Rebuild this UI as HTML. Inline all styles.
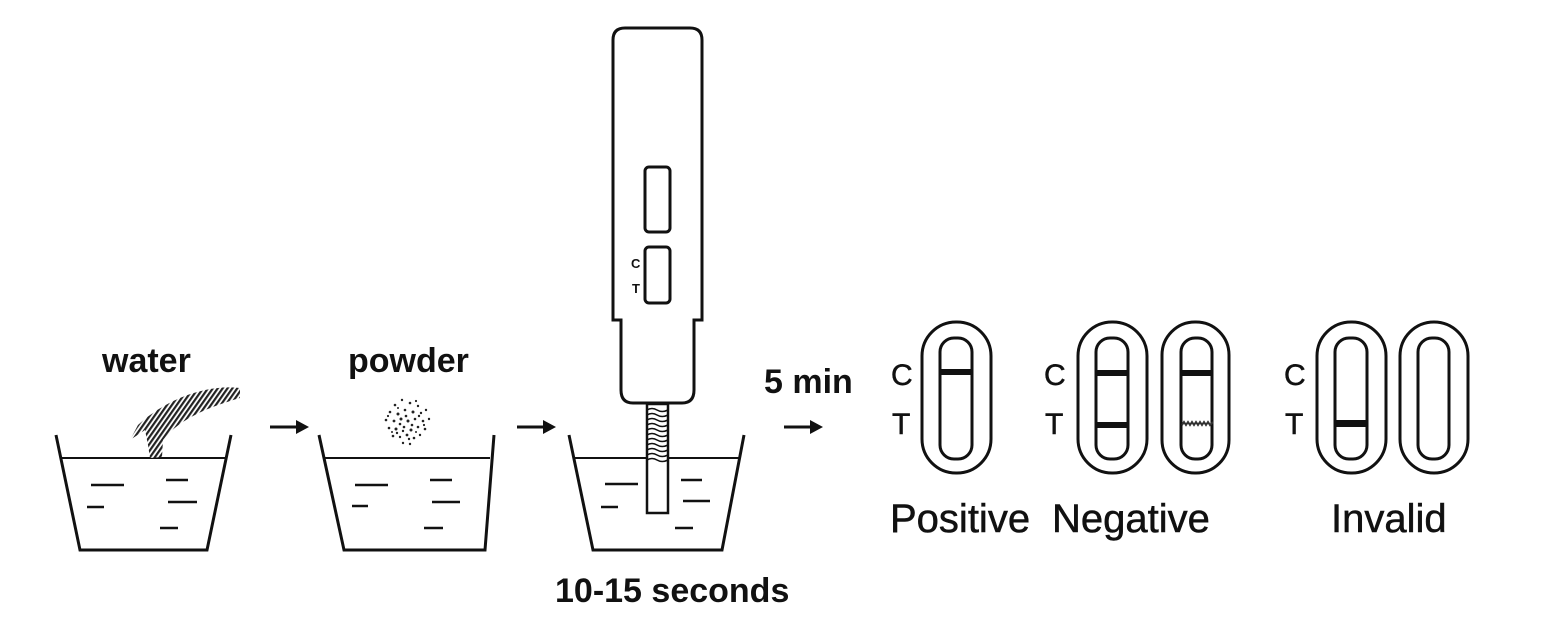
<!DOCTYPE html>
<html><head><meta charset="utf-8"><style>
html,body{margin:0;padding:0;background:#fff;}
svg{display:block;}
text{font-family:"Liberation Sans",Arial,sans-serif;fill:#111;}
</style></head><body>
<svg width="1558" height="626" viewBox="0 0 1558 626" xmlns="http://www.w3.org/2000/svg">
<defs>
<pattern id="hatch" width="4" height="4" patternUnits="userSpaceOnUse" patternTransform="rotate(35)">
<rect width="4" height="4" fill="#fff"/><rect width="2.2" height="4" fill="#222"/>
</pattern>
</defs>
<g fill="none" stroke="#111" stroke-width="3">
<path d="M56 435 L80 550 L207 550 L231 435"/>
<path d="M319 435 L344 550 L485 550 L494 435"/>
<path d="M569 435 L593 550 L722 550 L744 435"/>
</g>
<g stroke="#111" stroke-width="2">
<line x1="61" y1="458" x2="227" y2="458"/>
<line x1="325" y1="458" x2="490" y2="458"/>
<line x1="574" y1="458" x2="740" y2="458"/>
</g>
<g stroke="#111" stroke-width="2.5">
<line x1="91" y1="485" x2="124" y2="485"/><line x1="166" y1="480" x2="188" y2="480"/>
<line x1="87" y1="507" x2="104" y2="507"/><line x1="168" y1="502" x2="197" y2="502"/>
<line x1="160" y1="528" x2="178" y2="528"/>
<line x1="355" y1="485" x2="388" y2="485"/><line x1="430" y1="480" x2="452" y2="480"/>
<line x1="352" y1="506" x2="368" y2="506"/><line x1="432" y1="502" x2="460" y2="502"/>
<line x1="424" y1="528" x2="443" y2="528"/>
<line x1="605" y1="484" x2="638" y2="484"/><line x1="681" y1="480" x2="702" y2="480"/>
<line x1="601" y1="507" x2="618" y2="507"/><line x1="683" y1="501" x2="710" y2="501"/>
<line x1="675" y1="528" x2="693" y2="528"/>
</g>
<!-- water stream -->
<path d="M240 388 C205 384 165 400 138 425 L130 440 L145 430 L148 445 L150 458 L162 457 L163 440 C180 418 212 406 240 398 Z" fill="url(#hatch)"/>
<!-- powder -->
<g fill="#222">
<circle cx="395" cy="405" r="1.3"/><circle cx="402" cy="400" r="1.2"/><circle cx="410" cy="403" r="1.3"/><circle cx="418" cy="406" r="1.2"/>
<circle cx="390" cy="412" r="1.3"/><circle cx="398" cy="414" r="1.5"/><circle cx="405" cy="410" r="1.3"/><circle cx="413" cy="412" r="1.5"/><circle cx="421" cy="413" r="1.2"/><circle cx="426" cy="410" r="1.2"/>
<circle cx="386" cy="420" r="1.3"/><circle cx="394" cy="421" r="1.4"/><circle cx="401" cy="419" r="1.5"/><circle cx="408" cy="421" r="1.5"/><circle cx="415" cy="419" r="1.3"/><circle cx="423" cy="421" r="1.3"/><circle cx="429" cy="419" r="1.2"/>
<circle cx="389" cy="428" r="1.3"/><circle cx="396" cy="429" r="1.5"/><circle cx="404" cy="427" r="1.3"/><circle cx="411" cy="430" r="1.5"/><circle cx="418" cy="427" r="1.3"/><circle cx="425" cy="429" r="1.3"/>
<circle cx="393" cy="436" r="1.3"/><circle cx="400" cy="437" r="1.2"/><circle cx="407" cy="435" r="1.4"/><circle cx="414" cy="438" r="1.3"/><circle cx="420" cy="435" r="1.2"/>
<circle cx="403" cy="443" r="1.2"/><circle cx="410" cy="444" r="1.2"/><circle cx="398" cy="408" r="1"/><circle cx="416" cy="432" r="1"/><circle cx="392" cy="432" r="1"/>
<circle cx="400" cy="424" r="1.3"/><circle cx="406" cy="416" r="1.3"/><circle cx="412" cy="425" r="1.3"/><circle cx="419" cy="416" r="1.2"/><circle cx="397" cy="433" r="1.2"/><circle cx="409" cy="439" r="1.2"/><circle cx="388" cy="416" r="1.1"/><circle cx="424" cy="425" r="1.1"/><circle cx="403" cy="431" r="1.2"/><circle cx="416" cy="401" r="1.1"/>
</g>
<!-- arrows -->
<g stroke="#111" stroke-width="3"><line x1="270" y1="427" x2="298" y2="427"/><line x1="517" y1="427" x2="545" y2="427"/><line x1="784" y1="427" x2="812" y2="427"/></g>
<g fill="#111"><path d="M296 420 L309 427 L296 434Z"/><path d="M543 420 L556 427 L543 434Z"/><path d="M810 420 L823 427 L810 434Z"/></g>
<!-- device -->
<path d="M613 40 Q613 28 625 28 L690 28 Q702 28 702 40 L702 320 L694 320 L694 390 Q694 403 682 403 L633 403 Q621 403 621 390 L621 320 L613 320 Z" fill="#fff" stroke="#111" stroke-width="3"/>
<rect x="645" y="167" width="25" height="65" rx="4" fill="none" stroke="#111" stroke-width="3"/>
<rect x="645" y="247" width="25" height="56" rx="4" fill="none" stroke="#111" stroke-width="3"/>
<text x="631" y="268" font-size="13" font-weight="bold">C</text>
<text x="632" y="293" font-size="13" font-weight="bold">T</text>
<rect x="647" y="404" width="21" height="109" fill="#fff" stroke="#111" stroke-width="2.5"/>
<g fill="none" stroke="#111" stroke-width="1.6">
<path d="M647 410 q5 -3 10 0 t11 0"/><path d="M647 415 q5 -3 10 0 t11 0"/><path d="M647 420 q5 -3 10 0 t11 0"/><path d="M647 425 q5 -3 10 0 t11 0"/><path d="M647 430 q5 -3 10 0 t11 0"/><path d="M647 435 q5 -3 10 0 t11 0"/><path d="M647 440 q5 -3 10 0 t11 0"/><path d="M647 445 q5 -3 10 0 t11 0"/><path d="M647 450 q5 -3 10 0 t11 0"/><path d="M647 455 q5 -3 10 0 t11 0"/><path d="M647 460 q5 -3 10 0 t11 0"/>
</g>
<!-- result pills -->
<g fill="none" stroke="#111" stroke-width="3">
<rect x="922" y="322" width="69" height="151" rx="34"/><rect x="940" y="338" width="32" height="121" rx="14"/>
<rect x="1078" y="322" width="69" height="151" rx="34"/><rect x="1096" y="338" width="32" height="121" rx="14"/>
<rect x="1162" y="322" width="67" height="151" rx="33"/><rect x="1181" y="338" width="31" height="121" rx="14"/>
<rect x="1317" y="322" width="69" height="151" rx="34"/><rect x="1335" y="338" width="32" height="121" rx="14"/>
<rect x="1400" y="322" width="68" height="151" rx="34"/><rect x="1418" y="338" width="31" height="121" rx="14"/>
</g>
<g fill="#111">
<rect x="940" y="369" width="32" height="6"/>
<rect x="1096" y="370" width="32" height="6"/><rect x="1096" y="422" width="32" height="6"/>
<rect x="1181" y="370" width="31" height="6"/>
<rect x="1335" y="420" width="32" height="7"/>
</g>
<path d="M1182 425 l2 -3 l2 3 l2 -3 l2 3 l2 -3 l2 3 l2 -3 l2 3 l2 -3 l2 3 l2 -3 l2 3 l2 -3 l2 3 l3 -3" fill="none" stroke="#333" stroke-width="2"/>
<g font-size="30" style="stroke:#111;stroke-width:.5">
<text x="891" y="385">C</text><text x="892" y="434">T</text>
<text x="1044" y="385">C</text><text x="1045" y="434">T</text>
<text x="1284" y="385">C</text><text x="1285" y="434">T</text>
</g>
<g font-size="34" font-weight="bold">
<text x="102" y="372">water</text>
<text x="348" y="372">powder</text>
<text x="764" y="393">5 min</text>
<text x="555" y="602">10-15 seconds</text>
</g>
<g font-size="40" style="stroke:#111;stroke-width:.5">
<text x="890" y="532">Positive</text>
<text x="1052" y="532">Negative</text>
<text x="1331" y="532">Invalid</text>
</g>
</svg>
</body></html>
